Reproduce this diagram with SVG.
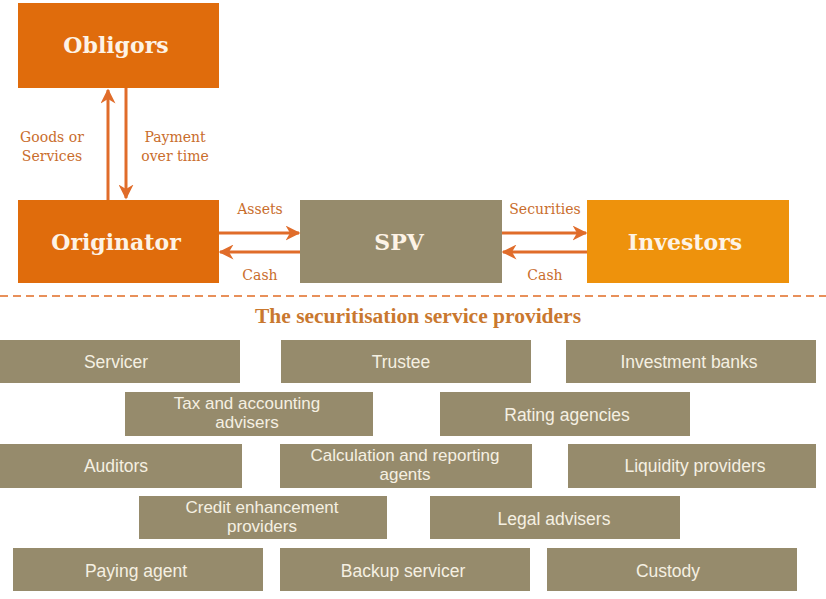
<svg xmlns="http://www.w3.org/2000/svg" width="826" height="599" viewBox="0 0 826 599">
<style>
.main{font-family:"DejaVu Serif","Liberation Serif",serif;font-weight:bold;font-size:22px;fill:#fdf3e6;text-anchor:middle}
.lbl{font-family:"DejaVu Serif","Liberation Serif",serif;font-size:14px;fill:#c96d2c;text-anchor:middle}
.ttl{font-family:"Liberation Serif","DejaVu Serif",serif;font-size:20px;fill:#c9782f;text-anchor:middle;font-weight:bold}
.gb{fill:#968b6c}
.gt{font-family:"Liberation Sans",Arial,sans-serif;font-size:17.5px;fill:#f5f0e2;text-anchor:middle}
.gt2{font-family:"Liberation Sans",Arial,sans-serif;font-size:17px;fill:#f5f0e2;text-anchor:middle}
.arr{stroke:#e06c2a;stroke-width:3;fill:none;marker-end:url(#ah)}
</style>
<defs>
<marker id="ah" viewBox="0 0 10 10" refX="9" refY="5" markerWidth="5" markerHeight="5" orient="auto" markerUnits="strokeWidth">
<path d="M0,0 L10,5 L0,10 L3,5 Z" fill="#e06c2a"/>
</marker>
</defs>
<rect width="826" height="599" fill="#ffffff"/>
<g id="obligors"><rect x="18" y="3" width="201" height="85" fill="#e06c0c"/><text class="main" x="116" y="53">Obligors</text></g>
<g id="originator"><rect x="18" y="200" width="201" height="83" fill="#e06c0c"/><text class="main" x="116" y="250">Originator</text></g>
<g id="spv"><rect x="300" y="200" width="202" height="83" fill="#968b6c"/><text class="main" x="399" y="250">SPV</text></g>
<g id="investors"><rect x="587" y="200" width="202" height="83" fill="#ee920c"/><text class="main" x="685" y="250">Investors</text></g>
<g id="connectors">
<line class="arr" x1="108" y1="200" x2="108" y2="90"/>
<line class="arr" x1="126" y1="88" x2="126" y2="198"/>
<line class="arr" x1="219" y1="233" x2="299" y2="233"/>
<line class="arr" x1="300" y1="252" x2="220" y2="252"/>
<line class="arr" x1="502" y1="233" x2="586" y2="233"/>
<line class="arr" x1="587" y1="252" x2="503" y2="252"/>
</g>
<g id="labels">
<text class="lbl" x="52" y="142">Goods or</text>
<text class="lbl" x="52" y="161">Services</text>
<text class="lbl" x="175" y="142">Payment</text>
<text class="lbl" x="175" y="161">over time</text>
<text class="lbl" x="260" y="214">Assets</text>
<text class="lbl" x="260" y="280">Cash</text>
<text class="lbl" x="545" y="214">Securities</text>
<text class="lbl" x="545" y="280">Cash</text>
</g>
<line x1="0" y1="296" x2="826" y2="296" stroke="#e8905a" stroke-width="2" stroke-dasharray="8,5"/>
<text class="ttl" x="418" y="323" textLength="326" lengthAdjust="spacingAndGlyphs">The securitisation service providers</text>
<g id="servicer"><rect class="gb" x="0" y="340" width="240" height="43"/><text class="gt" x="116" y="368">Servicer</text></g>
<g id="trustee"><rect class="gb" x="281" y="340" width="250" height="43"/><text class="gt" x="401" y="368">Trustee</text></g>
<g id="investment-banks"><rect class="gb" x="566" y="340" width="250" height="43"/><text class="gt" x="689" y="368">Investment banks</text></g>
<g id="tax"><rect class="gb" x="125" y="392" width="248" height="44"/><text class="gt2" x="247" y="409">Tax and accounting</text><text class="gt2" x="247" y="428">advisers</text></g>
<g id="rating"><rect class="gb" x="440" y="392" width="250" height="44"/><text class="gt" x="567" y="421">Rating agencies</text></g>
<g id="auditors"><rect class="gb" x="0" y="444" width="242" height="44"/><text class="gt" x="116" y="472">Auditors</text></g>
<g id="calculation"><rect class="gb" x="280" y="444" width="252" height="44"/><text class="gt2" x="405" y="461">Calculation and reporting</text><text class="gt2" x="405" y="480">agents</text></g>
<g id="liquidity"><rect class="gb" x="568" y="444" width="248" height="44"/><text class="gt" x="695" y="472">Liquidity providers</text></g>
<g id="credit"><rect class="gb" x="139" y="496" width="248" height="43"/><text class="gt2" x="262" y="513">Credit enhancement</text><text class="gt2" x="262" y="532">providers</text></g>
<g id="legal"><rect class="gb" x="430" y="496" width="250" height="43"/><text class="gt" x="554" y="525">Legal advisers</text></g>
<g id="paying"><rect class="gb" x="13" y="548" width="250" height="43"/><text class="gt" x="136" y="577">Paying agent</text></g>
<g id="backup"><rect class="gb" x="280" y="548" width="250" height="43"/><text class="gt" x="403" y="577">Backup servicer</text></g>
<g id="custody"><rect class="gb" x="547" y="548" width="250" height="43"/><text class="gt" x="668" y="577">Custody</text></g>
</svg>
